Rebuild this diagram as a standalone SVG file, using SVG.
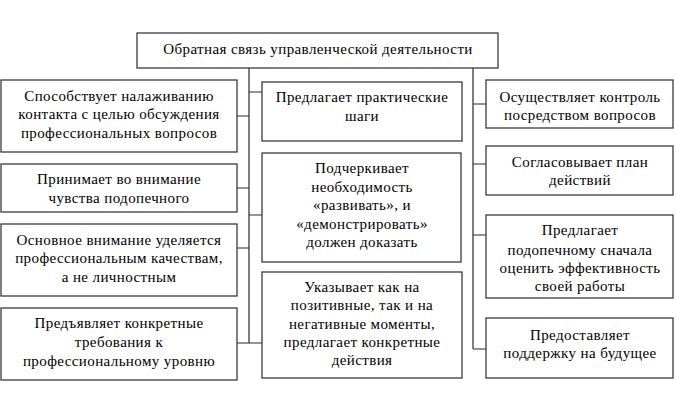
<svg xmlns="http://www.w3.org/2000/svg" width="676" height="403" viewBox="0 0 676 403">
<style>
.box{fill:#fff;stroke:#2a2a2a;stroke-width:1.2}
.ln{fill:none;stroke:#2a2a2a;stroke-width:1.2}
.t{font-size:15px;fill:#000;text-anchor:middle;letter-spacing:0.4px}
</style>
<rect width="676" height="403" fill="#fff"/>
<g id="connectors">
<path class="ln" d="M249 68V343M237 116H249M237 188H249M237 248H249M237 343H262M249 92H262M249 215H262"/>
<path class="ln" d="M473 68V349M473 104H486M473 164H486M473 235H486M473 349H486"/>
</g>
<g class="t" font-family="Liberation Serif, DejaVu Serif, serif">
<g id="n0"><rect class="box" x="137" y="33" width="361" height="35"/><text x="318" y="54">Обратная связь управленческой деятельности</text></g>
<g id="l1"><rect class="box" x="1" y="80" width="236" height="72"/><text x="119" y="101">Способствует налаживанию</text><text x="119" y="119">контакта с целью обсуждения</text><text x="119" y="138">профессиональных вопросов</text></g>
<g id="l2"><rect class="box" x="1" y="164" width="236" height="48"/><text x="119" y="184">Принимает во внимание</text><text x="119" y="203">чувства подопечного</text></g>
<g id="l3"><rect class="box" x="1" y="224" width="236" height="72"/><text x="119" y="245">Основное внимание уделяется</text><text x="119" y="263">профессиональным качествам,</text><text x="119" y="282">а не личностным</text></g>
<g id="l4"><rect class="box" x="1" y="308" width="236" height="72"/><text x="119" y="328">Предъявляет конкретные</text><text x="119" y="347">требования к</text><text x="119" y="366">профессиональному уровню</text></g>
<g id="m1"><rect class="box" x="262" y="82" width="200" height="59"/><text x="362" y="102">Предлагает практические</text><text x="362" y="121">шаги</text></g>
<g id="m2"><rect class="box" x="262" y="153" width="199" height="109"/><text x="362" y="173">Подчеркивает</text><text x="362" y="192">необходимость</text><text x="362" y="210">«развивать», и</text><text x="362" y="229">«демонстрировать»</text><text x="362" y="247">должен доказать</text></g>
<g id="m3"><rect class="box" x="262" y="272" width="200" height="106"/><text x="362" y="292">Указывает как на</text><text x="362" y="310">позитивные, так и на</text><text x="362" y="329">негативные моменты,</text><text x="362" y="347">предлагает конкретные</text><text x="362" y="365">действия</text></g>
<g id="r1"><rect class="box" x="486" y="80" width="187" height="48"/><text x="580" y="102">Осуществляет контроль</text><text x="580" y="120">посредством вопросов</text></g>
<g id="r2"><rect class="box" x="486" y="146" width="187" height="49"/><text x="580" y="167">Согласовывает план</text><text x="580" y="185">действий</text></g>
<g id="r3"><rect class="box" x="486" y="215" width="187" height="83"/><text x="580" y="235">Предлагает</text><text x="580" y="255">подопечному сначала</text><text x="580" y="273">оценить эффективность</text><text x="580" y="291">своей работы</text></g>
<g id="r4"><rect class="box" x="486" y="318" width="187" height="60"/><text x="580" y="340">Предоставляет</text><text x="580" y="358">поддержку на будущее</text></g>
</g>
</svg>
